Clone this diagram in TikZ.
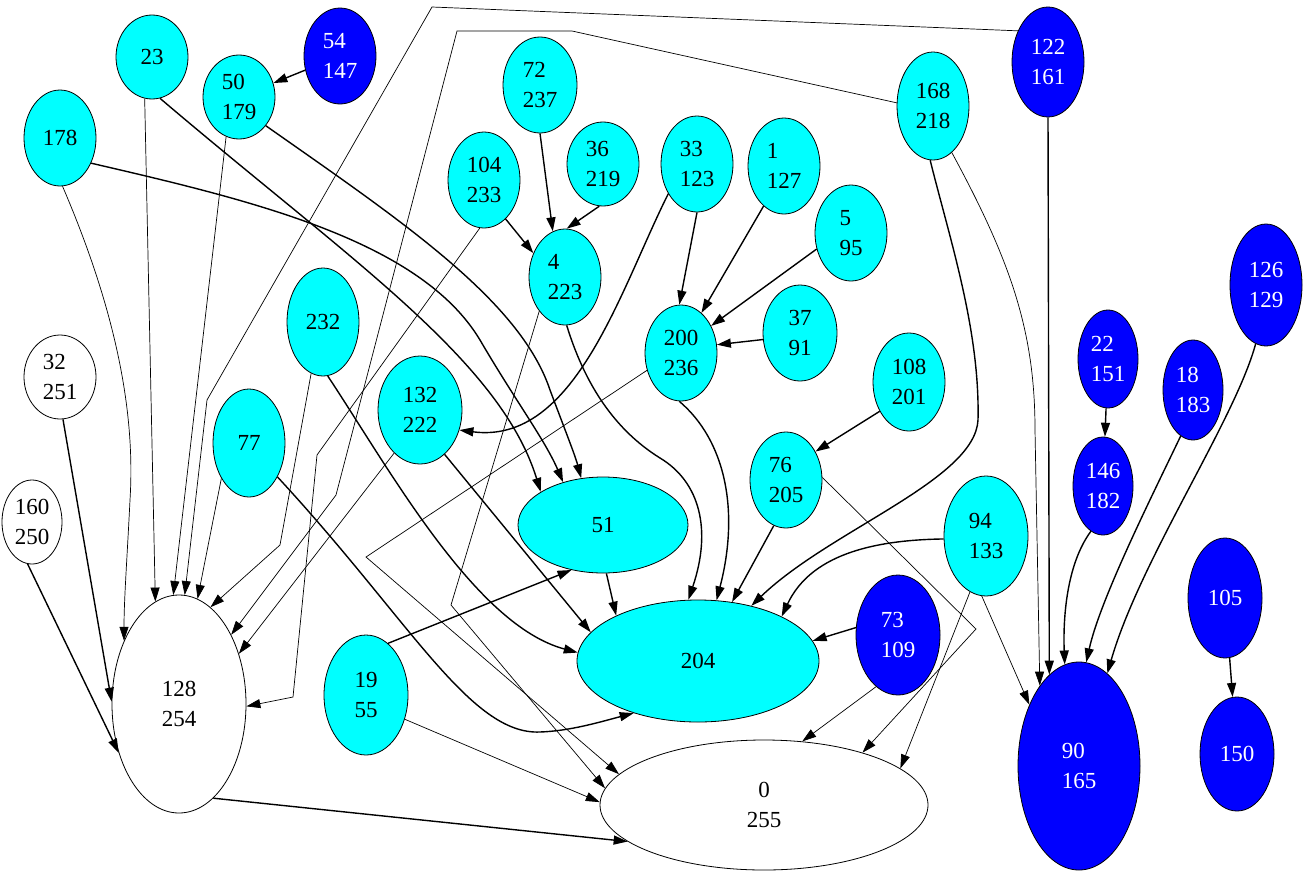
\documentclass[tikz,border=0pt]{standalone}
\usepackage{fontspec}
\setmainfont{Liberation Serif}
\usetikzlibrary{shapes.geometric,arrows.meta}
\definecolor{cyanc}{RGB}{0,255,255}
\definecolor{bluec}{RGB}{0,0,255}
\newcommand{\nodefnt}{\fontsize{23}{30}\selectfont}
\begin{document}
\begin{tikzpicture}[x=1pt,y=-1pt,
 nd/.style={ellipse, draw=black, line width=0.8pt, inner sep=0pt, font=\nodefnt, align=left},
 cy/.style={nd, fill=cyanc},
 bl/.style={nd, fill=bluec, text=white},
 wh/.style={nd, fill=white},
 sz/.style 2 args={minimum width=#1pt, minimum height=#2pt},
 thk/.style={line width=1.4pt, -{Triangle[length=14pt,width=9pt]}},
 thn/.style={line width=0.7pt, -{Triangle[length=14pt,width=9pt]}},
]
\useasboundingbox (0,0) rectangle (1308,870);
\node[cy,sz={72}{84}] (n23) at (152,57) {23};
\node[bl,sz={72}{96}] (n54) at (340,56) {54\\147};
\node[cy,sz={72}{84}] (n50) at (239,97) {50\\179};
\node[cy,sz={72}{96}] (n178) at (60,138) {178};
\node[cy,sz={74}{96}] (n72) at (540,85) {72\\237};
\node[cy,sz={72}{96}] (n104) at (484,180) {104\\233};
\node[cy,sz={72}{84}] (n36) at (603,164) {36\\219};
\node[cy,sz={72}{96}] (n33) at (697,164) {33\\123};
\node[cy,sz={72}{96}] (n1) at (784,166) {1\\127};
\node[cy,sz={72}{96}] (n5) at (851,233) {5\\95};
\node[cy,sz={72}{96}] (n4) at (565,277) {4\\223};
\node[cy,sz={72}{108}] (n168) at (933,106) {168\\218};
\node[bl,sz={72}{110}] (n122) at (1048,62) {122\\161};
\node[cy,sz={72}{96}] (n200) at (681,353) {200\\236};
\node[cy,sz={74}{96}] (n37) at (800,333) {37\\91};
\node[cy,sz={72}{98}] (n108) at (909,382) {108\\201};
\node[cy,sz={72}{96}] (n76) at (786,480) {76\\205};
\node[cy,sz={84}{120}] (n94) at (986,536) {94\\133};
\node[cy,sz={72}{108}] (n232) at (323,322) {232};
\node[cy,sz={84}{108}] (n132) at (420,410) {132\\222};
\node[cy,sz={72}{108}] (n77) at (249,443) {77};
\node[wh,sz={72}{84}] (n32) at (60,377) {32\\251};
\node[wh,sz={60}{84}] (n160) at (32,522) {160\\250};
\node[cy,sz={170}{96}] (n51) at (603,525) {51};
\node[wh,sz={134}{218}] (n128) at (179,704) {128\\254};
\node[cy,sz={84}{120}] (n19) at (366,695) {19\\55};
\node[cy,sz={242}{122}] (n204) at (698,661) {204};
\node[bl,sz={84}{120}] (n73) at (898,635) {73\\109};
\node[wh,sz={328}{130},align=center] (n0) at (764,805) {0\\255};
\node[bl,sz={122}{208}] (n90) at (1079,766) {90\\165};
\node[bl,sz={60}{98}] (n22) at (1108,359) {22\\151};
\node[bl,sz={60}{100}] (n18) at (1193,390) {18\\183};
\node[bl,sz={60}{98}] (n146) at (1103,486) {146\\182};
\node[bl,sz={72}{122}] (n126) at (1266,285) {126\\129};
\node[bl,sz={74}{120}] (n105) at (1225,598) {105};
\node[bl,sz={74}{114}] (n150) at (1237,754) {150};
% into 4
\draw[thk] (n72.-90) -- (n4.105);
\draw[thk] (n36.-95) -- (n4.88);
\draw[thk] (n104.-61) -- (n4.143);
% into 200
\draw[thk] (n33.-90) -- (n200.92);
\draw[thk] (n1.-117) -- (n200.63);
\draw[thk] (n5.-155) -- (n200.42);
\draw[thk] (n37.190) -- (n200.13);
\draw[thk] (n108.-135) -- (n76.44);
\draw[thk] (n54) -- (n50);
\draw[thk] (n22) -- (n146);
\draw[thk] (n105) -- (n150);
% into 90
\draw[thk] (n122.-90) -- (n90.108);
\draw[thk] (n146.-105) .. controls (1066,565) and (1063,620) .. (n90.98);
\draw[thk] (n18.-105) .. controls (1150,500) and (1100,600) .. (n90.86);
\draw[thk] (n126.-100) .. controls (1235,420) and (1140,560) .. (n90.73);
\draw[thn] (n168.-68) .. controls (1010,260) and (1035,330) .. (1035,430) -- (n90.116);
\draw[thn] (n94.-94) -- (n90.129);
% into 204
\draw[thk] (n168.-93) .. controls (950,240) and (980,330) .. (978,420) .. controls (975,480) and (830,530) .. (n204.46);
\draw[thk] (n94.184) .. controls (870,540) and (810,556) .. (n204.28);
\draw[thk] (n76.-105) -- (n204.60);
\draw[thk] (n200.-92) .. controls (725,440) and (740,510) .. (n204.73);
\draw[thk] (n4.-88) .. controls (585,385) and (615,430) .. (660,458) .. controls (700,482) and (712,530) .. (n204.99);
\draw[thk] (n51.-86) -- (n204.151);
\draw[thk] (n73.170) -- (n204.10);
\draw[thk] (n232.-85) .. controls (390,470) and (475,625) .. (n204.176);
\draw[thk] (n132.-61) -- (n204.165);
\draw[thk] (n77.-50) .. controls (410,620) and (470,735) .. (540,732) .. controls (570,731) and (600,722) .. (n204.-141);
% into 51
\draw[thk] (n19.67) -- (n51.-125);
\draw[thk] (n23.-79) .. controls (350,260) and (500,360) .. (n51.152);
\draw[thk] (n178.-39) .. controls (250,200) and (420,240) .. (480,340) .. controls (515,400) and (545,440) .. (n51.133);
\draw[thk] (n50.-47) .. controls (400,220) and (520,300) .. (550,390) .. controls (565,430) and (575,455) .. (n51.115);
% 33 -> 132
\draw[thk] (n33.-134) .. controls (620,290) and (575,445) .. (n132.-27);
% into 128
\draw[thk] (n32.-86) -- (n128.178);
\draw[thk] (n160.-96) -- (n128.-141);
\draw[thn] (n23.-100) -- (n128.103);
\draw[thn] (n50.-108) -- (n128.93);
\draw[thn] (n178.-87) .. controls (120,320) and (135,420) .. (130,500) .. controls (127,560) and (124,600) .. (n128.131);
\draw[thn] (n77.-128) -- (n128.80);
\draw[thn] (n232.-103) -- (280,545) -- (n128.72);
\draw[thn] (n132.-121) -- (n128.40);
\draw[thn] (n104.-95) -- (317,455) -- (293,697) -- (n128.-2);
\draw[thn] (n122.134) -- (432,7) -- (207,400) -- (n128.87);
\draw[thn] (n168.175) -- (572,31) -- (457,31) -- (336,495) -- (n128.53);
% into 0
\draw[thk] (n128.-70) -- (n0.-165);
\draw[thn] (n19.-32) -- (n0.179);
\draw[thn] (n200.-153) -- (366,557) -- (n0.168);
\draw[thn] (n4.-127) -- (451,605) -- (n0.174);
\draw[thn] (n73.-113) -- (n0.59);
\draw[thn] (n94.-106) -- (n0.15);
\draw[thn] (n76.4) -- (976,629) -- (n0.28);
\end{tikzpicture}
\end{document}
